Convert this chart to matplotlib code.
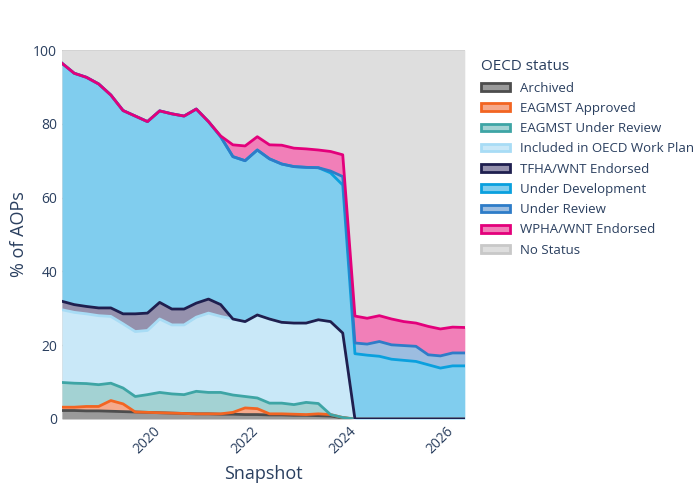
import numpy as np
import matplotlib
matplotlib.use("Agg")
from matplotlib import pyplot as plt
from matplotlib.patches import Patch

plt.rcParams["font.family"] = ["Open Sans", "DejaVu Sans"]

# quarterly snapshots, decimal years
snapshots = [2018.25 + 0.25 * i for i in range(34)]

# cumulative tops of each band (%)
top_archived = [2.3, 2.3, 2.2, 2.2, 2.1, 2.0, 1.9, 1.8, 1.7, 1.6, 1.5, 1.4, 1.4, 1.3, 1.3, 1.2, 1.2,
                1.1, 1.1, 1.0, 1.0, 0.9, 0.8, 0.3] + [0] * 10
top_approved = [3.2, 3.2, 3.4, 3.4, 5.0, 4.1, 1.9, 1.8, 1.7, 1.6, 1.5, 1.4, 1.4, 1.4, 1.8, 3.0, 2.8,
                1.4, 1.4, 1.3, 1.2, 1.4, 1.2, 0.4] + [0] * 10
top_eag_review = [9.9, 9.7, 9.6, 9.3, 9.7, 8.4, 6.1, 6.6, 7.2, 6.8, 6.6, 7.5, 7.2, 7.2, 6.5, 6.1, 5.7,
                  4.3, 4.3, 3.9, 4.5, 4.2, 1.2, 0.3] + [0] * 10
top_included = [29.6, 28.9, 28.5, 28.0, 27.8, 25.8, 23.7, 24.0, 27.1, 25.5, 25.5, 27.6, 28.7, 27.8,
                27.1, 26.4, 28.2, 27.1, 26.2, 26.0, 26.0, 26.9, 26.4, 23.3] + [0] * 10
top_tfha = [31.9, 31.0, 30.5, 30.1, 30.1, 28.5, 28.5, 28.7, 31.6, 29.8, 29.8, 31.4, 32.5, 31.0,
            27.1, 26.4, 28.2, 27.1, 26.2, 26.0, 26.0, 26.9, 26.4, 23.3] + [0] * 10
top_under_dev = [96.4, 93.7, 92.6, 90.8, 87.8, 83.6, 82.1, 80.6, 83.5, 82.7, 82.1, 84.0, 80.6, 76.5,
                 71.1, 70.0, 72.9, 70.5, 69.1, 68.4, 68.2, 68.1, 66.7, 63.4,
                 17.7, 17.3, 17.0, 16.2, 15.9, 15.6, 14.7, 13.8, 14.4, 14.4]
top_under_review = [96.4, 93.7, 92.6, 90.8, 87.8, 83.6, 82.1, 80.6, 83.5, 82.7, 82.1, 84.0, 80.6, 76.5,
                    71.1, 70.0, 72.9, 70.5, 69.1, 68.4, 68.2, 68.1, 67.2, 65.7,
                    20.6, 20.3, 21.0, 20.1, 19.9, 19.7, 17.4, 17.1, 17.9, 17.9]
top_wpha = [96.4, 93.7, 92.6, 90.8, 87.8, 83.6, 82.1, 80.6, 83.5, 82.7, 82.1, 84.0, 80.6, 76.7,
            74.3, 74.0, 76.5, 74.3, 74.2, 73.4, 73.2, 72.9, 72.5, 71.6,
            27.9, 27.3, 28.0, 27.1, 26.4, 26.0, 25.1, 24.4, 24.9, 24.8]
top_no_status = [100] * 34

statuses = ["Archived", "EAGMST Approved", "EAGMST Under Review", "Included in OECD Work Plan",
            "TFHA/WNT Endorsed", "Under Development", "Under Review", "WPHA/WNT Endorsed", "No Status"]
line_colors = ["#4d4d4d", "#f26522", "#3ea5a5", "#a8dcf5", "#1f1f4f", "#0aa0de", "#2e7cc8", "#e3007b", "#c8c8c8"]
fill_colors = ["#9a9a9a", "#f5a98b", "#a3d2d3", "#c9e8f8", "#9591ad", "#80cdee", "#9cbde0", "#f17fb8", "#dedede"]

tops = [top_archived, top_approved, top_eag_review, top_included, top_tfha,
        top_under_dev, top_under_review, top_wpha, top_no_status]
tops = np.maximum.accumulate(np.array(tops, dtype=float), axis=0)

x = np.array(snapshots)
fig = plt.figure(figsize=(7, 5), dpi=100)
ax = fig.add_axes([0.0886, 0.162, 0.5754, 0.738])
ax.set_facecolor("#dedede")

lower = np.zeros_like(x)
for i, name in enumerate(statuses):
    upper = tops[i]
    ax.fill_between(x, lower, upper, color=fill_colors[i], lw=0, zorder=2)
    lower = upper
for i, name in enumerate(statuses[:-1]):
    ax.plot(x, tops[i], color=line_colors[i], lw=2, zorder=3)

ax.set_xlim(x[0], x[-1])
ax.set_ylim(0, 100)
ax.set_xticks([2020, 2022, 2024, 2026])
ax.set_xticklabels(["2020", "2022", "2024", "2026"], rotation=45, color="#2a3f5f", fontsize=10)
ax.set_yticks([0, 20, 40, 60, 80, 100])
ax.tick_params(axis="y", colors="#2a3f5f", labelsize=10, length=0)
ax.tick_params(axis="x", length=0)
ax.grid(color="#c8c8c8", lw=1, zorder=0)
ax.set_axisbelow(True)
for s in ax.spines.values():
    s.set_visible(False)
ax.set_xlabel("Snapshot", fontsize=13, color="#2a3f5f", labelpad=6)
ax.set_ylabel("% of AOPs", fontsize=13, color="#2a3f5f")

handles = [Patch(facecolor=fill_colors[i], edgecolor=line_colors[i], lw=2) for i in range(len(statuses))]
leg = fig.legend(handles, statuses, loc="upper left", bbox_to_anchor=(0.67, 0.905), frameon=False,
                 title="OECD status", fontsize=9.5, title_fontsize=11, labelcolor="#2a3f5f",
                 handlelength=2.2, handleheight=0.5, labelspacing=0.55, alignment="left")
leg.get_title().set_color("#2a3f5f")

fig.savefig("out.png")
